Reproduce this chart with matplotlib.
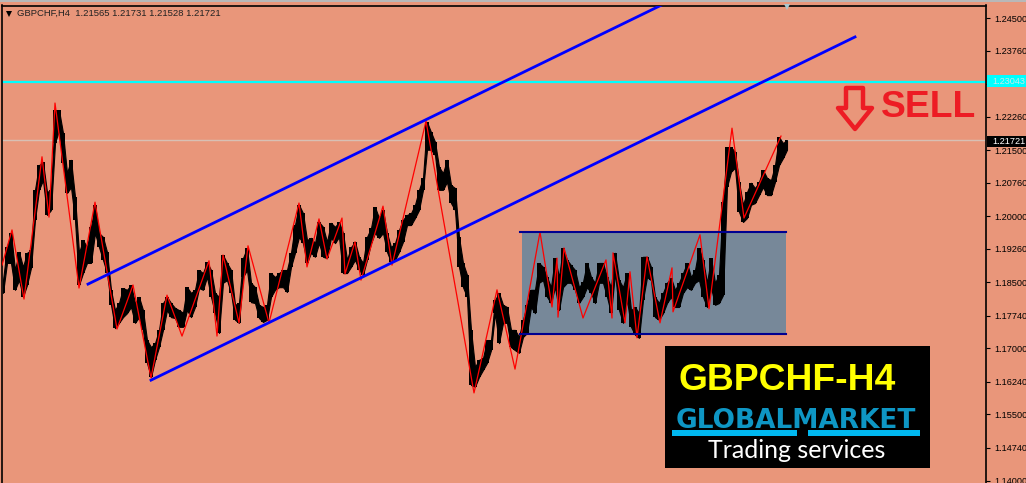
#!/usr/bin/env python3
"""GBPCHF H4 chart with channel, range box and sell mark."""

import matplotlib
matplotlib.use("Agg")
import matplotlib.pyplot as plt
from matplotlib.patches import Polygon, Rectangle
import numpy as np

plt.rcParams["font.family"] = ["Liberation Sans", "DejaVu Sans"]

# ---------- data ----------
price_high = [
    1.1855, 1.1930, 1.1962, 1.1878, 1.1919, 1.1885, 1.1917, 1.1923, 1.2060, 1.2116,
    1.2123, 1.2055, 1.2060, 1.2241, 1.2241, 1.2189, 1.2098, 1.2128, 1.2044, 1.1917,
    1.1946, 1.1930, 1.1976, 1.2026, 1.1962, 1.1953, 1.1919, 1.1833, 1.1787, 1.1803,
    1.1837, 1.1833, 1.1844, 1.1803, 1.1817, 1.1787, 1.1719, 1.1703, 1.1712, 1.1742,
    1.1803, 1.1817, 1.1803, 1.1792, 1.1787, 1.1781, 1.1839, 1.1826, 1.1833, 1.1878,
    1.1871, 1.1896, 1.1878, 1.1826, 1.1817, 1.1912, 1.1894, 1.1878, 1.1799, 1.1803,
    1.1905, 1.1928, 1.1849, 1.1839, 1.1799, 1.1794, 1.1799, 1.1871, 1.1862, 1.1871,
    1.1878, 1.1878, 1.1917, 1.1980, 1.2026, 1.2007, 1.1946, 1.1951, 1.1939, 1.1987,
    1.1976, 1.1942, 1.1985, 1.1976, 1.1987, 1.1962, 1.1901, 1.1930, 1.1942, 1.1908,
    1.1894, 1.1953, 1.1973, 1.2021, 1.1996, 1.2014, 1.1962, 1.1930, 1.1939, 1.1969,
    1.1992, 1.2003, 1.2007, 1.2026, 1.2060, 1.2087, 1.2214, 1.2191, 1.2169, 1.2112,
    1.2098, 1.2128, 1.2071, 1.2064, 1.1953, 1.1894, 1.1867, 1.1742, 1.1658, 1.1674,
    1.1678, 1.1719, 1.1719, 1.1810, 1.1826, 1.1799, 1.1794, 1.1742, 1.1742, 1.1726,
    1.1765, 1.1799, 1.1833, 1.1833, 1.1894, 1.1885, 1.1862, 1.1839, 1.1905, 1.1862,
    1.1928, 1.1901, 1.1889, 1.1878, 1.1839, 1.1851, 1.1894, 1.1862, 1.1849, 1.1894,
    1.1894, 1.1862, 1.1839, 1.1917, 1.1855, 1.1839, 1.1871, 1.1787, 1.1794, 1.1780,
    1.1908, 1.1908, 1.1885, 1.1817, 1.1803, 1.1826, 1.1849, 1.1860, 1.1833, 1.1849,
    1.1871, 1.1894, 1.1862, 1.1878, 1.1928, 1.1901, 1.1849, 1.1905, 1.1849, 1.1867,
    1.2032, 1.2157, 1.2157, 1.2146, 1.2078, 1.2026, 1.2055, 1.2076, 1.2064, 1.2078,
    1.2105, 1.2087, 1.2082, 1.2116, 1.2180, 1.2166, 1.2173,
]
price_low = [
    1.1826, 1.1894, 1.1894, 1.1833, 1.1855, 1.1817, 1.1844, 1.1883, 1.1992, 1.2060,
    1.2082, 1.2003, 1.2014, 1.2166, 1.2196, 1.2121, 1.2053, 1.2066, 1.1992, 1.1844,
    1.1871, 1.1894, 1.1894, 1.1962, 1.1930, 1.1901, 1.1871, 1.1799, 1.1746, 1.1758,
    1.1771, 1.1780, 1.1794, 1.1758, 1.1771, 1.1742, 1.1667, 1.1635, 1.1674, 1.1703,
    1.1742, 1.1787, 1.1771, 1.1769, 1.1749, 1.1749, 1.1787, 1.1771, 1.1794, 1.1837,
    1.1833, 1.1862, 1.1817, 1.1780, 1.1735, 1.1849, 1.1855, 1.1826, 1.1765, 1.1758,
    1.1862, 1.1878, 1.1805, 1.1803, 1.1769, 1.1760, 1.1765, 1.1817, 1.1833, 1.1839,
    1.1839, 1.1828, 1.1885, 1.1917, 1.1953, 1.1939, 1.1894, 1.1917, 1.1908, 1.1939,
    1.1908, 1.1905, 1.1951, 1.1939, 1.1953, 1.1871, 1.1871, 1.1885, 1.1901, 1.1878,
    1.1867, 1.1901, 1.1939, 1.1962, 1.1951, 1.1962, 1.1919, 1.1896, 1.1901, 1.1919,
    1.1942, 1.1980, 1.1980, 1.1996, 1.2014, 1.2060, 1.2151, 1.2151, 1.2139, 1.2060,
    1.2060, 1.2078, 1.2030, 1.2014, 1.1885, 1.1839, 1.1817, 1.1617, 1.1613, 1.1635,
    1.1651, 1.1667, 1.1696, 1.1780, 1.1712, 1.1758, 1.1758, 1.1703, 1.1696, 1.1690,
    1.1726, 1.1735, 1.1794, 1.1780, 1.1849, 1.1855, 1.1817, 1.1803, 1.1839, 1.1787,
    1.1839, 1.1849, 1.1849, 1.1833, 1.1803, 1.1817, 1.1839, 1.1826, 1.1803, 1.1849,
    1.1849, 1.1817, 1.1780, 1.1871, 1.1787, 1.1758, 1.1810, 1.1749, 1.1731, 1.1724,
    1.1810, 1.1862, 1.1855, 1.1771, 1.1765, 1.1780, 1.1803, 1.1817, 1.1794, 1.1794,
    1.1826, 1.1839, 1.1833, 1.1849, 1.1855, 1.1817, 1.1794, 1.1839, 1.1799, 1.1803,
    1.1821, 1.2067, 1.2101, 1.2110, 1.2010, 1.1987, 1.1996, 1.2026, 1.2030, 1.2048,
    1.2066, 1.2048, 1.2048, 1.2078, 1.2116, 1.2132, 1.2151,
]
zigzag_bar = [2, 12, 24, 42, 49, 55, 79, 95, 117, 133, 151, 167, 182, 209, 217, 223,
              239, 248, 269, 299, 307, 319, 327, 342, 345, 355, 361, 383, 392, 426,
              474, 497, 515, 540, 552, 557, 558, 564, 583, 606, 612, 613, 625, 630,
              637, 647, 660, 672, 673, 700, 709, 732, 744, 781]
zigzag_price = [1.1889, 1.1969, 1.1812, 1.2135, 1.1998, 1.2257, 1.1837, 1.2032, 1.1744,
                1.1844, 1.1633, 1.1821, 1.1728, 1.1899, 1.1728, 1.1912, 1.1758, 1.1933,
                1.1758, 1.2030, 1.1885, 1.1994, 1.1903, 1.1996, 1.1869, 1.1942, 1.1855,
                1.2023, 1.1889, 1.2216, 1.1599, 1.1833, 1.1653, 1.1964, 1.1794, 1.1905,
                1.1771, 1.1928, 1.1769, 1.1901, 1.1769, 1.1917, 1.1758, 1.1874, 1.1724,
                1.1908, 1.1758, 1.1883, 1.1783, 1.1958, 1.1790, 1.2200, 1.1996, 1.2182]

channel_top_bar = [88, 662]
channel_top_price = [1.1846, 1.2480]
channel_low_bar = [151, 855]
channel_low_price = [1.1628, 1.2407]

box_bar = [522, 786]
box_price = [1.1733, 1.1964]

resistance = 1.23043
last_price = 1.21721

tick_values = [1.245, 1.2376, 1.23, 1.2226, 1.215, 1.2076, 1.2, 1.1926, 1.185,
               1.1774, 1.17, 1.1624, 1.155, 1.1474, 1.14]

SALMON = "#E9967A"
W, H = 1026, 483

# ---------- price panel ----------
fig = plt.figure(figsize=(W / 100, H / 100), dpi=100, facecolor=SALMON)
ax = fig.add_axes([1.5 / W, (H - 486) / H, 984 / W, 480.5 / H], facecolor=SALMON)
ax.set_xlim(1.5, 985.5)
ax.set_ylim(1.13877, 1.24784)
ax.set_xticks([])
ax.yaxis.tick_right()
ax.set_yticks(tick_values)
# the 1.23000 label sits behind the cyan price tag
ax.set_yticklabels(["" if v == 1.23 else f"{v:.5f}" for v in tick_values], fontsize=6.6)
ax.tick_params(axis="y", length=3, width=0.8, pad=3.5, color="black")
ax.spines["bottom"].set_visible(False)
for s in ["left", "top", "right"]:
    ax.spines[s].set_linewidth(1.2)

ax.axhline(last_price, color="#D8C0B4", lw=1.0, zorder=1)
ax.axhline(resistance, color="#00FFFF", lw=1.6, zorder=1)

ax.add_patch(Rectangle((box_bar[0], box_price[0]), box_bar[1] - box_bar[0],
                       box_price[1] - box_price[0], color="#778899", lw=0, zorder=1))

bars = 3 + 4 * np.arange(len(price_high))
# sloped band plus stepped columns keeps the edge jagged like the bars
ax.fill_between(bars, price_low, price_high, color="black", lw=0.8, zorder=2)
ax.fill_between(bars, price_low, price_high, step="mid", color="black", lw=0, zorder=2)
ax.plot(zigzag_bar, zigzag_price, color="#FF0000", lw=0.9, zorder=3)

ax.plot(channel_top_bar, channel_top_price, color="#0000FF", lw=2.0, zorder=4)
ax.plot(channel_low_bar, channel_low_price, color="#0000FF", lw=2.0, zorder=4)
for p in box_price:
    ax.plot([box_bar[0] - 2, box_bar[1]], [p, p], color="#000090", lw=1.5, zorder=4)

# ---------- overlay in pixel space: labels, sell mark, logo ----------
ov = fig.add_axes([0, 0, 1, 1], facecolor="none", zorder=5)
ov.set_xlim(0, W)
ov.set_ylim(H, 0)
ov.axis("off")

ov.add_patch(Rectangle((0, 0), W, 2, color="#B8B8B8", lw=0))
ov.plot([8.5], [13.5], marker="v", color="black", ms=5, mew=0)
ov.text(17, 13.5, "GBPCHF,H4  1.21565 1.21731 1.21528 1.21721", fontsize=6.8,
        va="center", ha="left", color="#222222")
ov.plot([787], [7], marker="v", color="#A8C8D0", ms=4, mew=0)

ov.add_patch(Rectangle((987, 75), 39, 12, color="#00FFFF", lw=0))
ov.text(992, 81.5, "1.23043", fontsize=6.6, va="center", color="#C8E8E8")
ov.add_patch(Rectangle((987, 136), 39, 11, color="black", lw=0))
ov.text(992, 141.5, "1.21721", fontsize=6.6, va="center", color="white")

ov.text(881, 117, "SELL", fontsize=26.8, fontweight="bold", color="#ED1C24",
        va="baseline", ha="left")
ov.add_patch(Polygon([(846, 88), (863, 88), (863, 108), (872, 108), (855, 129),
                      (838, 108), (846, 108)], closed=True, fill=False,
                     edgecolor="#ED1C24", lw=3.2, joinstyle="round"))

ov.add_patch(Rectangle((665, 346), 265, 122, color="black", lw=0))
ov.text(679, 390, "GBPCHF-H4", fontsize=26.8, fontweight="bold", color="#FFFF00",
        va="baseline", ha="left")
ov.text(796, 428, "GLOBALMARKET", fontsize=19, fontweight="bold", family="DejaVu Sans",
        color="#0E96C4", va="baseline", ha="center")
ov.add_patch(Rectangle((672, 430), 125, 6, color="#00B8F0", lw=0))
ov.add_patch(Rectangle((808, 430), 112, 6, color="#00B8F0", lw=0))
ov.text(797, 450, "Trading services", fontsize=18, family="Lato",
        color="white", va="center", ha="center")

fig.savefig("out.png", dpi=100, facecolor=SALMON)
